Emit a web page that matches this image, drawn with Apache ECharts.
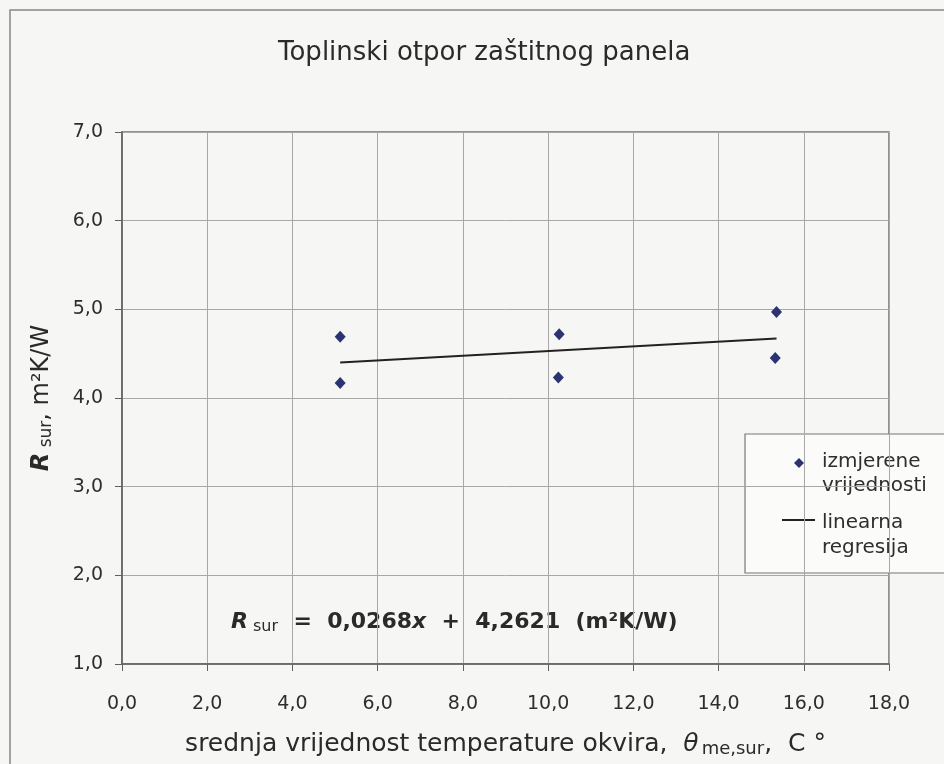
<!DOCTYPE html>
<html>
<head>
<meta charset="utf-8">
<script src="https://cdn.jsdelivr.net/npm/echarts@6/dist/echarts.min.js"></script>
<style>
	html, body { margin: 0; padding: 0; background: #f6f6f4; }
	#main { width: 944px; height: 764px; }
</style>
</head>
<body>
<div id="main"></div>
<script>
var measuredX = [5.12, 5.12, 10.26, 10.24, 15.36, 15.33];
var measuredY = [4.69, 4.17, 4.72, 4.23, 4.97, 4.45];
var regressionX = [5.12, 15.36];
var regressionY = [4.40, 4.67];

var xTicks = [0, 18, 2];
var yTicks = [1, 7, 1];

var seriesNames = ['izmjerene vrijednosti', 'linearna regresija'];

var fontName = '"DejaVu Sans", Verdana, sans-serif';
var txt = '#2e2e2e';
var markColor = '#2b3470';

function fmt(v) {
	return v.toFixed(1).replace('.', ',');
}

var dom = document.getElementById('main');
var myChart = echarts.init(dom);

var pts = [];
for (var i = 0; i < measuredX.length; i++) {
	pts.push([measuredX[i], measuredY[i]]);
}
var line = [];
for (var j = 0; j < regressionX.length; j++) {
	line.push([regressionX[j], regressionY[j]]);
}

// legenda je nacrtana rucno (dva reda teksta, ikona uz prvi red)
var legendGraphic = {
	type: 'group',
	x: 745,
	y: 434,
	children: [ {
		type: 'rect',
		shape: { x: 0, y: 0, width: 260, height: 139 },
		style: { fill: '#fbfbfa', stroke: '#777', lineWidth: 1.2 }
	}, {
		type: 'polygon',
		shape: { points: [ [54, 24], [59, 29], [54, 34], [49, 29] ] },
		style: { fill: markColor }
	}, {
		type: 'line',
		shape: { x1: 37, y1: 86, x2: 70, y2: 86 },
		style: { stroke: '#222', lineWidth: 2 }
	}, {
		type: 'text',
		x: 77, y: 16,
		style: { text: 'izmjerene\nvrijednosti', font: '20px ' + fontName, fill: txt, lineHeight: 24 }
	}, {
		type: 'text',
		x: 77, y: 76,
		style: { text: 'linearna\nregresija', font: '20px ' + fontName, fill: txt, lineHeight: 25 }
	} ]
};

myChart.setOption({
	backgroundColor: '#f6f6f4',
	textStyle: { fontFamily: fontName, color: txt },
	title: {
		text: 'Toplinski otpor zaštitnog panela',
		left: 273,
		top: 35,
		textStyle: { fontFamily: fontName, fontSize: 26, fontWeight: 'normal', color: '#2a2a2a' }
	},
	graphic: [ {
		type: 'rect',
		shape: { x: 10, y: 10, width: 1000, height: 1000 },
		style: { fill: null, stroke: '#888', lineWidth: 1.5 },
		z: -1
	}, {
		type: 'text',
		x: 231,
		y: 609,
		style: {
			text: '{r|R}{s| sur}{b|  =  0,0268}{x|x}{b|  +  4,2621  (m²K/W)}',
			rich: {
				r: { fontFamily: fontName, fontSize: 22, fontStyle: 'italic', fontWeight: 'bold', fill: '#2a2a2a' },
				s: { fontFamily: fontName, fontSize: 16, fill: '#2a2a2a', padding: [10, 0, 0, 0] },
				b: { fontFamily: fontName, fontSize: 22, fontWeight: 'bold', fill: '#2a2a2a' },
				x: { fontFamily: fontName, fontSize: 22, fontWeight: 'bold', fontStyle: 'italic', fill: '#2a2a2a' }
			}
		}
	}, legendGraphic ],
	grid: {
		left: 122,
		right: 55,
		top: 132,
		bottom: 100,
		show: true,
		borderColor: '#707070',
		borderWidth: 1.5,
		backgroundColor: 'transparent'
	},
	xAxis: {
		type: 'value',
		min: xTicks[0],
		max: xTicks[1],
		interval: xTicks[2],
		name: '{t|srednja vrijednost temperature okvira,  }{th|θ}{s|me,sur}{t|,  C °}',
		nameLocation: 'middle',
		nameGap: 66,
		nameTextStyle: {
			rich: {
				t: { fontFamily: fontName, fontSize: 25, color: '#2a2a2a' },
				th: { fontFamily: fontName, fontSize: 25, fontStyle: 'italic', color: '#2a2a2a' },
				s: { fontFamily: fontName, fontSize: 18, color: '#2a2a2a', padding: [10, 0, 0, 3] }
			}
		},
		axisLine: { lineStyle: { color: '#606060', width: 1.5 } },
		axisTick: { show: true, inside: false, length: 7, lineStyle: { color: '#606060' } },
		axisLabel: { formatter: fmt, fontSize: 19, color: txt, margin: 31, fontFamily: fontName },
		splitLine: { show: true, lineStyle: { color: '#a8a8a8', width: 1 } }
	},
	yAxis: {
		type: 'value',
		min: yTicks[0],
		max: yTicks[1],
		interval: yTicks[2],
		name: '{r|R}{s| sur}{t|, m²K/W}',
		nameLocation: 'middle',
		nameRotate: 90,
		nameGap: 67,
		nameTextStyle: {
			rich: {
				r: { fontFamily: fontName, fontSize: 24, fontStyle: 'italic', fontWeight: 'bold', color: '#2a2a2a' },
				s: { fontFamily: fontName, fontSize: 17, color: '#2a2a2a', padding: [10, 0, 0, 0] },
				t: { fontFamily: fontName, fontSize: 24, color: '#2a2a2a' }
			}
		},
		axisLine: { show: true, lineStyle: { color: '#606060', width: 1.5 } },
		axisTick: { show: true, length: 7, lineStyle: { color: '#606060' } },
		axisLabel: { formatter: fmt, fontSize: 19, color: txt, margin: 19, fontFamily: fontName },
		splitLine: { show: true, lineStyle: { color: '#a8a8a8', width: 1 } }
	},
	series: [ {
		name: seriesNames[0],
		type: 'scatter',
		symbol: 'diamond',
		symbolSize: [11, 12],
		itemStyle: { color: markColor, opacity: 1 },
		data: pts
	}, {
		name: seriesNames[1],
		type: 'line',
		symbol: 'none',
		lineStyle: { color: '#222', width: 2 },
		itemStyle: { color: '#222' },
		data: line
	} ]
});
</script>
</body>
</html>
